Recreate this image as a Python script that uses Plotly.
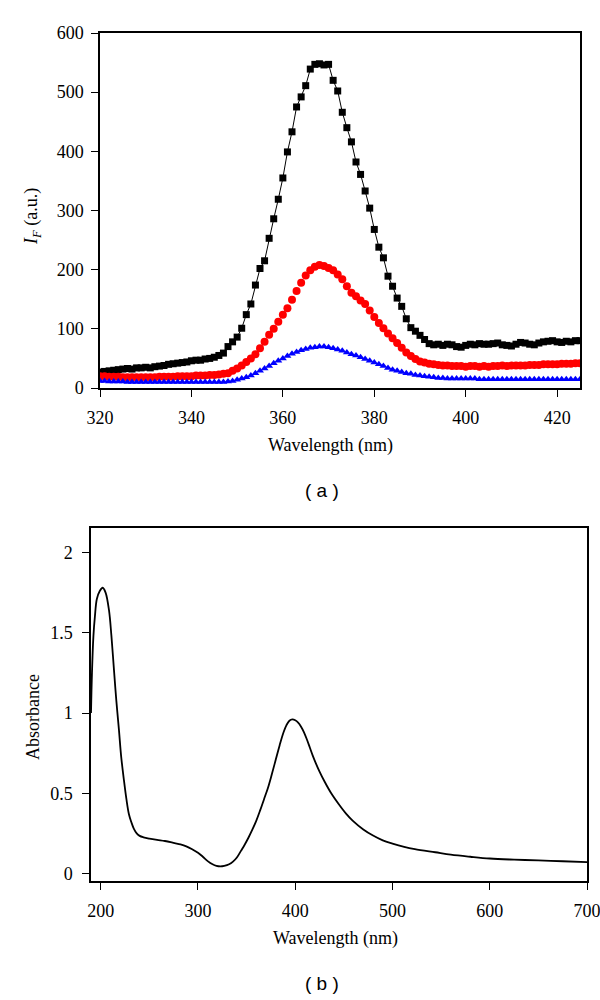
import plotly.graph_objects as go

# ---------------- Panel (a): fluorescence emission ----------------
wl_a = list(range(320, 426))  # 1 nm steps

black_if = [27, 28, 29, 30, 31, 32, 33, 32, 34, 34,
            35, 34, 36, 37, 38, 40, 41, 42, 43, 44,
            46, 47, 47, 49, 50, 52, 55, 59, 70, 78,
            86, 101, 124, 142, 174, 202, 215, 253, 286, 319,
            355, 399, 433, 475, 492, 511, 539, 547, 548, 546,
            547, 520, 502, 466, 440, 416, 382, 361, 333, 304,
            268, 238, 220, 189, 172, 152, 138, 117, 102, 96,
            89, 82, 75, 73, 74, 72, 74, 73, 70, 69,
            72, 74, 73, 75, 74, 74, 75, 76, 73, 72,
            71, 74, 77, 76, 74, 73, 76, 78, 79, 80,
            78, 77, 79, 78, 80, 80]

red_if = [20, 20, 19, 19, 19, 18, 18, 18, 18, 18,
          18, 18, 18, 19, 19, 19, 19, 20, 20, 20,
          20, 21, 21, 21, 22, 22, 23, 24, 25, 29,
          33, 38, 44, 50, 57, 67, 78, 90, 100, 112,
          124, 135, 149, 164, 178, 190, 199, 205, 208, 206,
          203, 199, 192, 184, 172, 161, 155, 148, 142, 131,
          120, 110, 101, 92, 84, 76, 68, 60, 54, 49,
          45, 43, 41, 40, 39, 38, 38, 37, 37, 37,
          36, 37, 37, 36, 37, 36, 37, 37, 38, 37,
          38, 38, 38, 38, 39, 39, 39, 40, 40, 40,
          40, 41, 41, 41, 42, 42]

blue_if = [12, 12, 11, 11, 11, 11, 10, 10, 10, 10,
           10, 10, 10, 10, 10, 10, 10, 10, 10, 10,
           10, 10, 10, 10, 10, 10, 10, 10, 11, 12,
           14, 16, 18, 21, 25, 29, 33, 37, 42, 46,
           50, 54, 58, 61, 64, 66, 68, 69, 70, 70,
           69, 67, 65, 63, 60, 57, 55, 52, 49, 46,
           43, 40, 37, 34, 31, 29, 27, 25, 24, 22,
           21, 20, 19, 18, 17, 17, 16, 16, 16, 16,
           16, 16, 16, 15, 15, 15, 15, 15, 15, 15,
           15, 15, 15, 15, 15, 15, 15, 15, 15, 15,
           15, 15, 15, 15, 15, 15]

xticks_a = [320, 340, 360, 380, 400, 420]
yticks_a = [0, 100, 200, 300, 400, 500, 600]

# ---------------- Panel (b): UV-vis absorbance ----------------
wl_b = [190, 191, 192.5, 194, 196, 199, 202, 205, 208.5, 211, 213.6, 216,
        218.8, 221, 223.9, 226.5, 229, 231.5, 234, 237, 240, 244, 250, 258, 266, 276,
        282, 288, 294, 300, 305, 310, 315, 319, 323, 327, 332, 336, 340, 344,
        348, 352, 356, 360, 364, 368, 372, 376, 380, 384, 388, 391, 394, 397,
        400, 403, 406, 409, 412, 415, 418, 421, 425, 430, 437, 445, 452, 459,
        470, 480, 490, 500, 512, 523, 544, 560, 580, 600, 625, 650, 675, 700]
absorb = [1.00, 1.25, 1.48, 1.60, 1.71, 1.76, 1.78, 1.75, 1.64, 1.48, 1.27, 1.08,
          0.89, 0.73, 0.58, 0.46, 0.37, 0.32, 0.28, 0.25, 0.235, 0.226, 0.218, 0.21, 0.203, 0.19,
          0.182, 0.17, 0.152, 0.130, 0.105, 0.078, 0.058, 0.048, 0.045, 0.048, 0.058, 0.075, 0.10, 0.14,
          0.18, 0.225, 0.275, 0.33, 0.395, 0.465, 0.535, 0.62, 0.71, 0.80, 0.88, 0.925, 0.952, 0.96,
          0.955, 0.94, 0.915, 0.88, 0.835, 0.785, 0.735, 0.69, 0.635, 0.575, 0.50, 0.43, 0.375, 0.33,
          0.275, 0.237, 0.207, 0.187, 0.167, 0.153, 0.133, 0.118, 0.105, 0.094, 0.087, 0.082, 0.077, 0.072]

xticks_b = [200, 300, 400, 500, 600, 700]
yticks_b = [0, 0.5, 1, 1.5, 2]
yticklabels_b = ["0", "0.5", "1", "1.5", "2"]

SERIF = "Liberation Serif"
SANS = "Liberation Sans"
FS = 18

fig = go.Figure()

fig.add_trace(go.Scatter(x=wl_a, y=black_if, mode="lines+markers",
                         line=dict(color="black", width=1),
                         marker=dict(symbol="square", size=7, color="black"),
                         xaxis="x", yaxis="y", showlegend=False))
fig.add_trace(go.Scatter(x=wl_a, y=red_if, mode="markers",
                         marker=dict(symbol="circle", size=8, color="#ff0000"),
                         xaxis="x", yaxis="y", showlegend=False))
fig.add_trace(go.Scatter(x=wl_a, y=blue_if, mode="markers",
                         marker=dict(symbol="triangle-up", size=7, color="#0000ff"),
                         xaxis="x", yaxis="y", showlegend=False))

fig.add_trace(go.Scatter(x=wl_b, y=absorb, mode="lines",
                         line=dict(color="black", width=1.8, shape="spline", smoothing=1.0),
                         xaxis="x2", yaxis="y2", showlegend=False))

axis_common = dict(showline=True, linecolor="black", linewidth=1.5, mirror=True,
                   ticks="outside", ticklen=7, tickwidth=1.3, tickcolor="black",
                   showgrid=False, zeroline=False, automargin=False,
                   ticklabeloverflow="allow",
                   tickfont=dict(family=SERIF, size=FS, color="black"))

fig.update_layout(
    width=600, height=1000, autosize=False,
    margin=dict(l=0, r=0, t=0, b=0),
    paper_bgcolor="white", plot_bgcolor="white",
    xaxis=dict(domain=[100/600, 580/600], range=[320, 425], anchor="y",
               tickvals=xticks_a, ticklabelstandoff=6, **axis_common),
    yaxis=dict(domain=[1 - 388/1000, 1 - 33/1000], range=[0, 600], anchor="x",
               tickvals=yticks_a, ticklabelstandoff=4, **axis_common),
    xaxis2=dict(domain=[91/600, 587/600], range=[190, 700], anchor="y2",
                tickvals=xticks_b, ticklabelstandoff=6, **axis_common),
    yaxis2=dict(domain=[1 - 881/1000, 1 - 528/1000], range=[-0.046, 2.152], anchor="x2",
                tickvals=yticks_b, ticktext=yticklabels_b, ticklabelstandoff=6,
                **axis_common),
    annotations=[
        dict(text="Wavelength (nm)", x=330/600, y=1 - 445/1000,
             xref="paper", yref="paper", xanchor="center", yanchor="middle", showarrow=False,
             font=dict(family=SERIF, size=FS, color="black")),
        dict(text="Wavelength (nm)", x=335/600, y=1 - 938/1000,
             xref="paper", yref="paper", xanchor="center", yanchor="middle", showarrow=False,
             font=dict(family=SERIF, size=FS, color="black")),
        dict(text="<i>I<sub>F</sub></i> (a.u.)", x=33/600, y=1 - 217/1000,
             xref="paper", yref="paper", xanchor="center", yanchor="middle",
             textangle=-90, showarrow=False,
             font=dict(family=SERIF, size=FS, color="black")),
        dict(text="Absorbance", x=33/600, y=1 - 717/1000,
             xref="paper", yref="paper", xanchor="center", yanchor="middle",
             textangle=-90, showarrow=False,
             font=dict(family=SERIF, size=FS, color="black")),
        dict(text="( a )", x=322/600, y=1 - 490/1000, xref="paper", yref="paper",
             xanchor="center", yanchor="middle",
             showarrow=False, font=dict(family=SANS, size=19, color="black")),
        dict(text="( b )", x=322/600, y=1 - 983/1000, xref="paper", yref="paper",
             xanchor="center", yanchor="middle",
             showarrow=False, font=dict(family=SANS, size=19, color="black")),
    ],
)

fig.write_html("out.html", config={"displayModeBar": False},
               post_script="document.body.style.margin='0';document.body.style.padding='0';")
